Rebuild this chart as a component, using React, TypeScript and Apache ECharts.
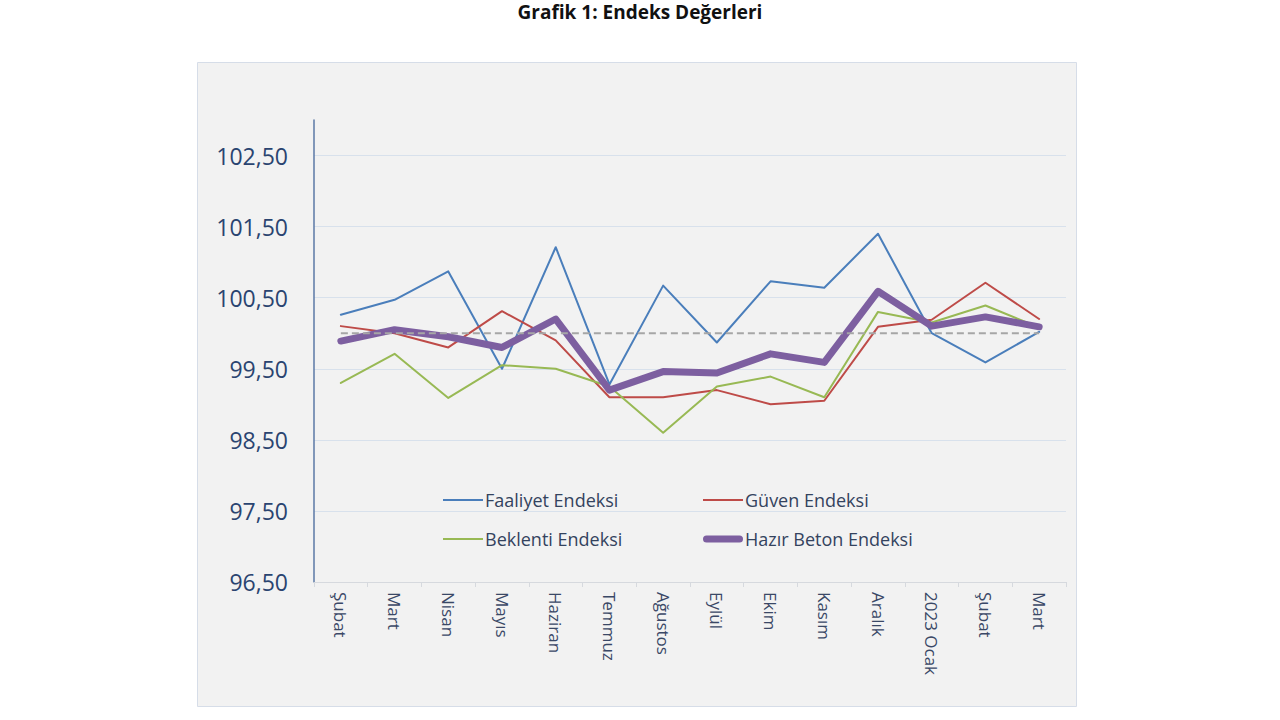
import React, { useEffect, useRef } from "react";
import * as echarts from "echarts";

const TITLE = "Grafik 1: Endeks Değerleri";
const CATEGORIES = ["Şubat", "Mart", "Nisan", "Mayıs", "Haziran", "Temmuz", "Ağustos", "Eylül", "Ekim", "Kasım", "Aralık", "2023 Ocak", "Şubat", "Mart"];
const FAALIYET = [100.26, 100.47, 100.87, 99.5, 101.21, 99.28, 100.67, 99.87, 100.73, 100.64, 101.4, 100.0, 99.59, 100.02];
const GUVEN = [100.1, 100.0, 99.8, 100.31, 99.9, 99.1, 99.1, 99.2, 99.0, 99.05, 100.09, 100.19, 100.71, 100.2];
const BEKLENTI = [99.3, 99.71, 99.09, 99.55, 99.5, 99.25, 98.6, 99.25, 99.39, 99.1, 100.3, 100.15, 100.39, 100.08];
const HAZIR_BETON = [99.89, 100.05, 99.95, 99.8, 100.2, 99.2, 99.46, 99.44, 99.71, 99.59, 100.59, 100.1, 100.23, 100.09];
const BASELINE = [100, 100, 100, 100, 100, 100, 100, 100, 100, 100, 100, 100, 100, 100];
const Y_MIN = 96.5;
const Y_MAX = 103;
const Y_STEP = 1;

const SERIES_NAMES = ["Faaliyet Endeksi", "Güven Endeksi", "Beklenti Endeksi", "Hazır Beton Endeksi"];
const COLORS = ["#4a7ebb", "#be4b48", "#98b954", "#7d5fa0"];
const WIDTHS = [2, 2, 2, 7];
const VALUES = [FAALIYET, GUVEN, BEKLENTI, HAZIR_BETON];

const FONT = "'Open Sans', 'Noto Sans', sans-serif";
const THIN_ICON = "path://M0,0 L40,0 L40,2 L0,2 Z";
const THICK_ICON = "path://M3.5,0 L36.5,0 A3.5,3.5 0 0 1 36.5,7 L3.5,7 A3.5,3.5 0 0 1 3.5,0 Z";

export default function App() {
  const ref = useRef<HTMLDivElement>(null);
  useEffect(() => {
    if (!ref.current) return;
    const chart = echarts.init(ref.current, null, { renderer: "svg" });
    const legendPos = [
      { left: 443, top: 491 },
      { left: 703, top: 491 },
      { left: 443, top: 530 },
      { left: 703, top: 530 },
    ];
    chart.setOption({
      animation: false,
      backgroundColor: "#ffffff",
      textStyle: { fontFamily: FONT },
      title: {
        text: TITLE,
        left: "center",
        top: 2,
        padding: 0,
        textStyle: { fontFamily: FONT, fontSize: 19, fontWeight: "bold", color: "#111111" },
      },
      graphic: [
        {
          type: "rect",
          z: -10,
          silent: true,
          shape: { x: 197.5, y: 62.5, width: 879, height: 644 },
          style: { fill: "#f2f2f2", stroke: "#d6dde8", lineWidth: 1 },
        },
      ],
      legend: SERIES_NAMES.map((n, i) => ({
        data: [n],
        left: legendPos[i].left,
        top: legendPos[i].top,
        padding: 0,
        icon: i === 3 ? THICK_ICON : THIN_ICON,
        itemWidth: 40,
        itemHeight: WIDTHS[i],
        itemGap: 4,
        selectedMode: false,
        itemStyle: { color: COLORS[i], borderWidth: 0 },
        textStyle: { fontFamily: FONT, fontSize: 18, color: "#34435e", padding: [0, 0, 0, -3] },
      })),
      grid: { left: 314, top: 120, right: 214, bottom: 138, containLabel: false },
      xAxis: {
        type: "category",
        data: CATEGORIES,
        boundaryGap: true,
        axisLine: { show: true, lineStyle: { color: "#d6d9de", width: 1 } },
        axisTick: { show: true, length: 5, lineStyle: { color: "#d6d9de" } },
        axisLabel: {
          rotate: -90,
          margin: 10,
          interval: 0,
          fontFamily: FONT,
          fontSize: 17,
          color: "#3a4866",
        },
        splitLine: { show: false },
      },
      yAxis: {
        type: "value",
        min: Y_MIN,
        max: Y_MAX,
        interval: Y_STEP,
        axisLine: { show: true, lineStyle: { color: "#5b78a6", width: 1.5 } },
        axisTick: { show: false },
        axisLabel: {
          showMaxLabel: false,
          margin: 26,
          fontFamily: FONT,
          fontSize: 23,
          color: "#2a4470",
          formatter: (v: number) => v.toFixed(2).replace(".", ","),
        },
        splitLine: { show: true, showMaxLine: false, lineStyle: { color: "#d8e1ec", width: 1 } },
      },
      series: [
        ...SERIES_NAMES.map((n, i) => ({
          name: n,
          type: "line",
          data: VALUES[i],
          symbol: "none",
          color: COLORS[i],
          lineStyle: { color: COLORS[i], width: WIDTHS[i], cap: "round", join: "round" },
          z: 2 + i,
        })),
        {
          name: "Baseline",
          type: "line",
          data: BASELINE,
          symbol: "none",
          silent: true,
          color: "#a6a6a6",
          lineStyle: { color: "#a6a6a6", width: 2, type: [7, 4] },
          z: 10,
        },
      ],
    });
    return () => chart.dispose();
  }, []);
  return <div ref={ref} style={{ position: "fixed", left: 0, top: 0, width: 1280, height: 720 }} />;
}
